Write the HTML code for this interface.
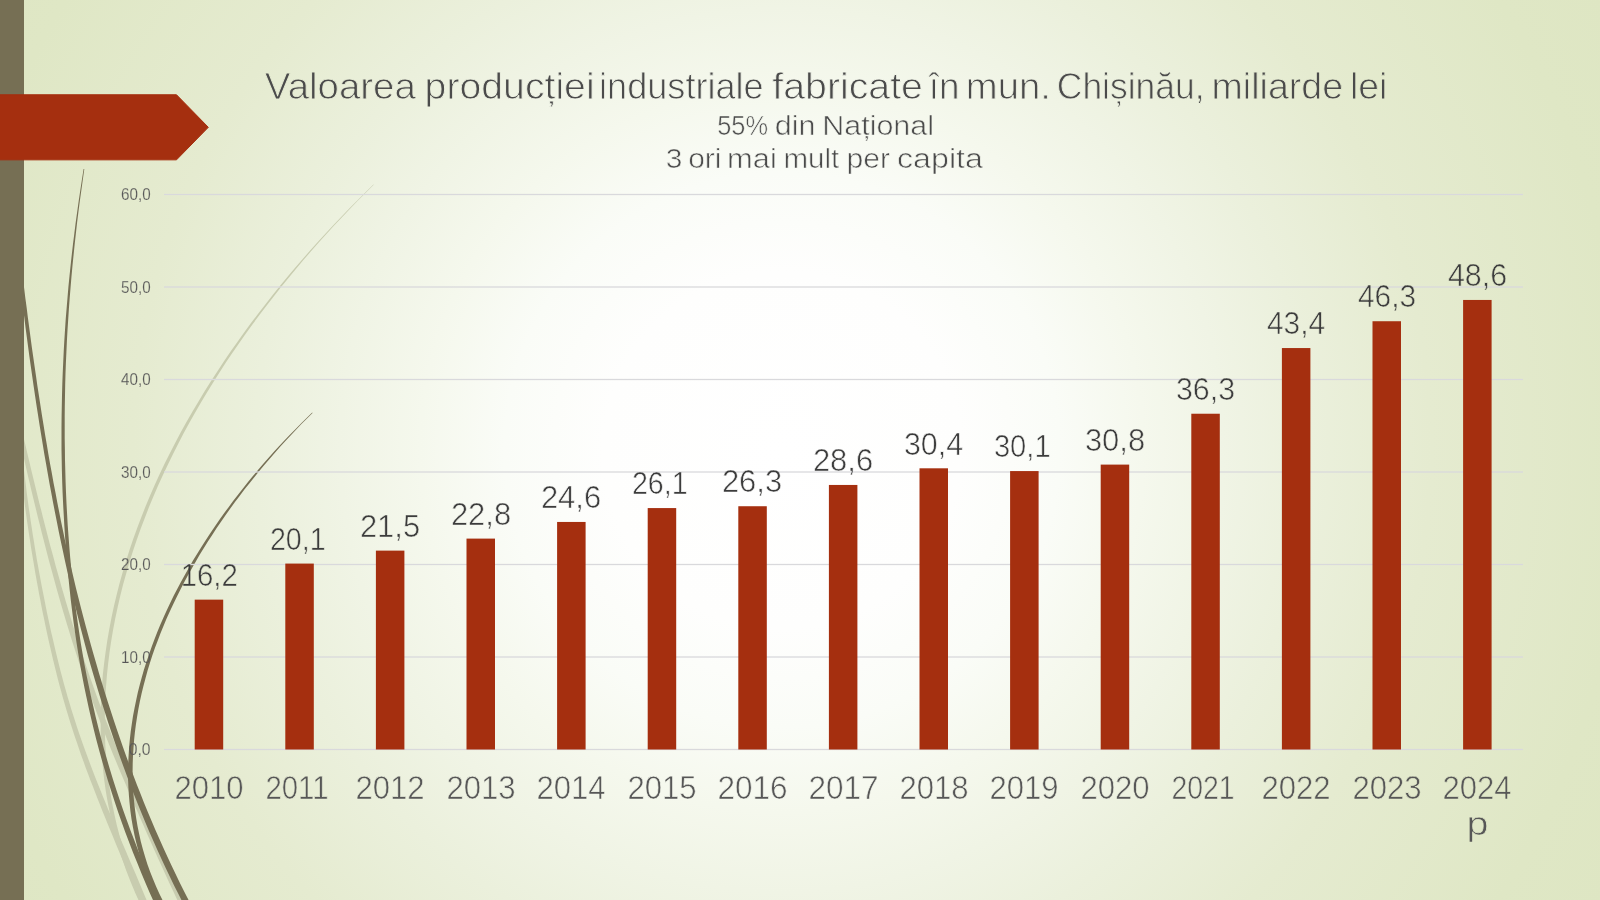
<!DOCTYPE html>
<html lang="ro"><head><meta charset="utf-8"><title>Valoarea producției industriale</title>
<style>
html,body{margin:0;padding:0;width:1600px;height:900px;overflow:hidden;background:#e1e9c9;}
svg{display:block;position:absolute;left:0;top:0}
text{font-family:"Liberation Sans",sans-serif;}
mask text{fill:#fff;stroke:#000;stroke-linejoin:round}
.ttl{font-size:36.5px;stroke-width:0.95px}
.sub{font-size:27px;stroke-width:0.7px}
.yl{font-size:16.3px;stroke-width:0.25px}
.xl{font-size:33.6px;stroke-width:0.75px}
.dl{font-size:31px;stroke-width:0.7px}
</style></head><body>
<svg width="1600" height="900" viewBox="0 0 1600 900">
<defs>
<radialGradient id="bg" gradientUnits="userSpaceOnUse" cx="782" cy="450" r="940">
<stop offset="0" stop-color="#ffffff"/>
<stop offset="0.19" stop-color="#fefefd"/>
<stop offset="0.295" stop-color="#fafcf7"/>
<stop offset="0.385" stop-color="#f5f8ed"/>
<stop offset="0.47" stop-color="#f0f4e5"/>
<stop offset="0.56" stop-color="#ebf0dc"/>
<stop offset="0.69" stop-color="#e5ebd0"/>
<stop offset="0.9" stop-color="#dfe7c5"/>
<stop offset="1" stop-color="#dee6c3"/>
</radialGradient>
</defs>
<rect width="1600" height="900" fill="url(#bg)"/>
<path d="M373.4 184.5 365.3 192.4 357.3 200.4 349.3 208.5 341.4 216.7 333.5 225.0 325.6 233.4 317.8 241.9 310.1 250.5 302.5 259.3 294.9 268.1 287.3 277.0 279.9 286.0 272.5 295.2 265.3 304.4 258.1 313.7 251.0 323.1 244.1 332.6 237.2 342.2 230.4 351.8 223.8 361.6 217.3 371.4 210.9 381.3 204.6 391.3 198.5 401.4 192.5 411.6 186.6 421.8 180.9 432.1 175.4 442.5 170.0 452.9 164.7 463.5 159.7 474.1 154.8 484.7 150.1 495.5 145.6 506.3 141.3 517.2 137.2 528.1 133.2 539.1 129.5 550.1 126.0 561.2 122.6 572.4 119.5 583.6 116.6 594.9 113.9 606.2 111.5 617.6 109.3 629.0 107.3 640.5 105.6 652.0 104.1 663.5 102.8 675.1 101.9 686.7 101.1 698.3 100.7 709.9 100.6 721.6 100.7 733.2 101.1 744.8 101.9 756.5 102.9 768.1 104.2 779.7 105.8 791.2 107.8 802.8 110.1 814.3 112.6 825.7 115.6 837.1 118.8 848.5 122.5 859.8 126.4 871.0 130.7 882.1 135.4 893.2 140.4 904.2 L144.2 902.4 139.2 891.5 134.6 880.5 130.4 869.5 126.4 858.4 122.9 847.3 119.6 836.0 116.7 824.7 114.2 813.4 111.9 802.0 110.0 790.6 108.4 779.1 107.1 767.7 106.1 756.2 105.3 744.6 104.9 733.1 104.8 721.6 104.9 710.0 105.3 698.5 106.0 687.0 106.9 675.5 108.1 664.0 109.5 652.5 111.2 641.1 113.1 629.7 115.3 618.3 117.7 607.0 120.3 595.8 123.1 584.6 126.2 573.4 129.4 562.3 132.9 551.3 136.6 540.3 140.5 529.3 144.6 518.4 148.8 507.6 153.3 496.8 157.9 486.1 162.7 475.5 167.7 464.9 172.8 454.4 178.1 443.9 183.5 433.5 189.1 423.2 194.9 412.9 200.8 402.8 206.8 392.7 213.0 382.7 219.3 372.7 225.7 362.8 232.3 353.1 238.9 343.4 245.7 333.8 252.6 324.2 259.6 314.8 266.7 305.5 273.9 296.2 281.1 287.0 288.5 278.0 295.9 269.0 303.4 260.1 311.0 251.3 318.7 242.6 326.4 234.1 334.1 225.6 342.0 217.2 349.8 209.0 357.7 200.8 365.7 192.8 373.7 184.8Z" fill="#c8ccaf"/>
<path d="M18.5 434.3 20.1 441.3 21.7 448.4 23.3 455.4 24.9 462.4 26.5 469.4 28.1 476.4 29.8 483.5 31.4 490.5 33.1 497.5 34.8 504.5 36.5 511.5 38.2 518.5 40.0 525.5 41.7 532.5 43.5 539.5 45.3 546.4 47.1 553.4 48.9 560.4 50.8 567.3 52.7 574.3 54.6 581.2 56.5 588.2 58.4 595.1 60.4 602.0 62.4 608.9 64.5 615.9 66.5 622.8 68.6 629.6 70.7 636.5 72.9 643.4 75.1 650.3 77.3 657.1 79.5 664.0 81.8 670.8 84.1 677.6 86.5 684.4 88.9 691.2 91.3 698.0 93.8 704.8 96.3 711.6 98.9 718.3 101.4 725.0 104.1 731.8 106.7 738.5 109.4 745.2 112.1 751.9 114.8 758.5 117.6 765.2 120.4 771.9 123.2 778.5 126.0 785.1 128.8 791.8 131.6 798.4 134.5 805.0 137.4 811.6 140.3 818.2 143.2 824.8 146.1 831.4 149.0 838.0 151.9 844.6 154.9 851.2 157.8 857.7 160.8 864.3 163.8 870.8 166.8 877.4 169.8 883.9 172.9 890.4 175.9 896.9 179.0 903.4 L184.2 900.9 181.2 894.4 178.1 887.9 175.1 881.4 172.1 874.9 169.1 868.4 166.1 861.9 163.1 855.3 160.2 848.8 157.2 842.2 154.3 835.7 151.4 829.1 148.5 822.5 145.6 815.9 142.7 809.3 139.8 802.7 137.0 796.1 134.1 789.5 131.3 782.9 128.5 776.3 125.7 769.6 122.9 763.0 120.2 756.3 117.5 749.7 114.8 743.0 112.1 736.3 109.5 729.6 106.9 722.9 104.3 716.2 101.7 709.5 99.2 702.8 96.7 696.1 94.3 689.3 91.9 682.5 89.5 675.8 87.2 669.0 84.9 662.2 82.6 655.4 80.4 648.6 78.1 641.7 76.0 634.9 73.8 628.0 71.7 621.2 69.6 614.3 67.6 607.4 65.5 600.5 63.5 593.6 61.5 586.7 59.6 579.8 57.7 572.9 55.7 566.0 53.9 559.0 52.0 552.1 50.1 545.2 48.3 538.2 46.5 531.2 44.7 524.3 42.9 517.3 41.2 510.3 39.4 503.4 37.7 496.4 36.0 489.4 34.3 482.4 32.6 475.4 30.9 468.4 29.3 461.4 27.6 454.4 26.0 447.4 24.3 440.4 22.7 433.4Z" fill="#c8ccaf"/>
<path d="M19.8 462.1 20.5 468.7 21.2 475.3 22.0 481.9 22.8 488.6 23.6 495.2 24.4 501.8 25.3 508.4 26.2 514.9 27.1 521.5 28.1 528.1 29.1 534.7 30.1 541.3 31.1 547.9 32.2 554.5 33.3 561.0 34.4 567.6 35.5 574.2 36.7 580.7 37.9 587.3 39.1 593.9 40.4 600.4 41.6 607.0 42.9 613.5 44.3 620.0 45.6 626.6 47.0 633.1 48.4 639.6 49.9 646.1 51.4 652.6 52.9 659.1 54.5 665.6 56.1 672.0 57.7 678.5 59.4 684.9 61.2 691.4 62.9 697.8 64.8 704.2 66.6 710.6 68.6 717.0 70.5 723.3 72.6 729.7 74.6 736.0 76.8 742.3 78.9 748.6 81.1 754.9 83.4 761.2 85.6 767.4 88.0 773.7 90.3 779.9 92.7 786.1 95.1 792.3 97.5 798.6 100.0 804.7 102.4 810.9 104.9 817.1 107.4 823.3 110.0 829.5 112.5 835.6 115.0 841.8 117.6 847.9 120.1 854.1 122.7 860.2 125.2 866.4 127.8 872.5 130.3 878.7 132.8 884.8 135.3 891.0 137.9 897.1 140.4 903.3 L146.8 900.6 144.2 894.5 141.7 888.4 139.1 882.2 136.5 876.1 133.9 870.0 131.3 863.9 128.6 857.7 126.0 851.6 123.4 845.5 120.8 839.4 118.2 833.2 115.6 827.1 113.0 821.0 110.5 814.8 107.9 808.7 105.4 802.6 102.9 796.4 100.4 790.2 97.9 784.1 95.5 777.9 93.1 771.7 90.7 765.5 88.4 759.3 86.1 753.1 83.9 746.9 81.6 740.6 79.5 734.4 77.3 728.1 75.3 721.8 73.3 715.5 71.3 709.2 69.4 702.8 67.5 696.5 65.7 690.1 63.9 683.7 62.2 677.3 60.5 670.9 58.9 664.5 57.3 658.0 55.7 651.6 54.2 645.1 52.7 638.6 51.2 632.2 49.8 625.7 48.4 619.2 47.0 612.7 45.7 606.2 44.4 599.6 43.1 593.1 41.8 586.6 40.6 580.0 39.4 573.5 38.2 567.0 37.0 560.4 35.9 553.8 34.8 547.3 33.8 540.7 32.7 534.2 31.7 527.6 30.7 521.0 29.8 514.4 28.8 507.9 27.9 501.3 27.0 494.7 26.2 488.1 25.4 481.5 24.6 475.0 23.8 468.4 23.1 461.8Z" fill="#c8ccaf"/>
<path d="M83.6 169.0 81.9 179.7 80.3 190.3 78.7 201.0 77.2 211.7 75.7 222.4 74.4 233.1 73.0 243.9 71.8 254.6 70.6 265.4 69.5 276.1 68.4 286.9 67.5 297.7 66.6 308.5 65.7 319.3 65.0 330.1 64.3 341.0 63.7 351.8 63.2 362.6 62.7 373.5 62.3 384.3 62.0 395.2 61.8 406.0 61.6 416.8 61.5 427.7 61.5 438.5 61.5 449.4 61.7 460.2 61.9 471.1 62.2 481.9 62.6 492.8 63.1 503.6 63.7 514.5 64.3 525.3 65.0 536.1 65.8 546.9 66.7 557.7 67.6 568.5 68.6 579.3 69.7 590.1 70.9 600.9 72.2 611.6 73.6 622.4 75.1 633.1 76.7 643.8 78.4 654.5 80.2 665.2 82.2 675.9 84.2 686.5 86.4 697.1 88.7 707.7 91.1 718.2 93.6 728.8 96.2 739.3 99.0 749.7 101.9 760.2 104.9 770.6 108.0 781.0 111.3 791.3 114.6 801.6 118.1 811.9 121.7 822.2 125.4 832.4 129.2 842.6 133.1 852.7 137.2 862.8 141.3 872.9 145.5 883.0 149.8 893.0 154.3 902.9 L159.5 900.6 155.1 890.7 150.8 880.7 146.5 870.7 142.4 860.7 138.3 850.7 134.4 840.6 130.5 830.5 126.8 820.3 123.2 810.2 119.7 800.0 116.3 789.7 113.0 779.4 109.8 769.1 106.8 758.8 103.8 748.4 101.0 738.0 98.3 727.6 95.7 717.1 93.3 706.6 90.9 696.1 88.7 685.6 86.5 675.0 84.5 664.4 82.6 653.8 80.8 643.2 79.2 632.5 77.6 621.8 76.1 611.1 74.7 600.4 73.5 589.7 72.3 579.0 71.2 568.2 70.2 557.4 69.3 546.6 68.5 535.9 67.7 525.1 67.1 514.3 66.5 503.5 66.0 492.6 65.6 481.8 65.3 471.0 65.0 460.2 64.9 449.4 64.7 438.5 64.7 427.7 64.7 416.9 64.8 406.0 65.0 395.2 65.2 384.4 65.5 373.6 65.9 362.7 66.4 351.9 66.9 341.1 67.5 330.3 68.2 319.5 68.9 308.7 69.7 297.9 70.6 287.1 71.5 276.3 72.5 265.6 73.6 254.8 74.7 244.1 75.9 233.3 77.1 222.6 78.4 211.9 79.8 201.2 81.3 190.5 82.8 179.8 84.3 169.1Z" fill="#766f54"/>
<path d="M16.1 250.2 17.2 260.0 18.4 269.7 19.6 279.4 20.7 289.1 21.9 298.8 23.1 308.6 24.4 318.3 25.6 328.0 26.9 337.8 28.2 347.5 29.5 357.2 30.9 367.0 32.3 376.7 33.7 386.4 35.1 396.1 36.6 405.9 38.1 415.6 39.6 425.3 41.2 435.0 42.8 444.7 44.4 454.4 46.1 464.1 47.8 473.8 49.5 483.4 51.3 493.1 53.1 502.8 55.0 512.4 56.9 522.1 58.8 531.7 60.8 541.3 62.9 550.9 64.9 560.5 67.0 570.1 69.1 579.7 71.3 589.3 73.5 598.9 75.8 608.4 78.2 617.9 80.5 627.5 83.0 637.0 85.5 646.5 88.0 655.9 90.7 665.4 93.4 674.8 96.2 684.2 99.0 693.6 101.9 703.0 104.9 712.3 107.9 721.7 111.0 731.0 114.1 740.3 117.3 749.6 120.6 758.8 124.0 768.0 127.4 777.3 130.9 786.4 134.4 795.6 138.1 804.7 141.8 813.8 145.6 822.9 149.4 832.0 153.4 841.0 157.4 850.0 161.5 859.0 165.7 867.9 169.9 876.8 174.2 885.7 178.7 894.6 183.2 903.4 L188.8 900.5 184.3 891.7 179.9 882.9 175.6 874.1 171.4 865.2 167.2 856.3 163.2 847.4 159.2 838.4 155.2 829.5 151.4 820.5 147.6 811.4 143.9 802.4 140.3 793.3 136.7 784.2 133.2 775.1 129.8 765.9 126.4 756.7 123.1 747.5 119.9 738.3 116.7 729.1 113.6 719.8 110.6 710.5 107.6 701.2 104.7 691.9 101.8 682.5 99.0 673.2 96.3 663.8 93.6 654.4 90.9 645.0 88.3 635.5 85.7 626.1 83.2 616.6 80.8 607.2 78.4 597.7 76.0 588.2 73.7 578.6 71.5 569.1 69.3 559.6 67.1 550.0 65.0 540.4 63.0 530.8 61.0 521.2 59.1 511.6 57.2 502.0 55.4 492.3 53.5 482.7 51.8 473.0 50.0 463.4 48.3 453.7 46.7 444.0 45.0 434.3 43.5 424.7 41.9 415.0 40.4 405.3 38.9 395.6 37.4 385.9 36.0 376.1 34.6 366.4 33.2 356.7 31.8 347.0 30.5 337.3 29.2 327.6 27.9 317.8 26.7 308.1 25.4 298.4 24.2 288.7 23.0 279.0 21.8 269.3 20.7 259.5 19.6 249.8Z" fill="#766f54"/>
<path d="M312.2 412.6 306.6 418.1 301.0 423.6 295.4 429.2 289.9 434.8 284.4 440.6 279.0 446.3 273.7 452.1 268.4 458.0 263.1 464.0 258.0 470.0 252.9 476.1 247.8 482.2 242.9 488.4 238.0 494.7 233.1 501.0 228.4 507.4 223.7 513.8 219.1 520.3 214.5 526.9 210.1 533.5 205.7 540.2 201.4 546.9 197.2 553.7 193.0 560.5 189.0 567.4 185.1 574.4 181.2 581.4 177.5 588.5 173.8 595.6 170.3 602.8 166.9 610.0 163.6 617.3 160.4 624.6 157.3 632.0 154.4 639.4 151.6 646.9 149.0 654.4 146.4 662.0 144.0 669.6 141.8 677.2 139.7 684.9 137.8 692.6 136.1 700.4 134.5 708.2 133.0 716.0 131.8 723.9 130.7 731.8 129.8 739.7 129.1 747.6 128.6 755.5 128.2 763.5 128.1 771.4 128.1 779.4 128.4 787.3 128.9 795.3 129.6 803.2 130.4 811.1 131.5 819.0 132.9 826.9 134.4 834.7 136.2 842.5 138.2 850.3 140.4 858.0 142.8 865.7 145.5 873.4 148.5 881.0 151.7 888.5 155.1 896.0 158.8 903.4 L163.1 901.2 159.5 893.9 156.1 886.5 153.0 879.1 150.1 871.7 147.4 864.2 145.0 856.6 142.8 849.0 140.8 841.4 139.1 833.7 137.5 826.0 136.2 818.3 135.1 810.5 134.2 802.7 133.5 794.9 133.1 787.1 132.8 779.3 132.6 771.4 132.7 763.6 133.0 755.8 133.5 747.9 134.1 740.1 134.9 732.3 135.9 724.5 137.1 716.7 138.4 708.9 139.9 701.2 141.6 693.5 143.5 685.8 145.5 678.2 147.6 670.6 149.9 663.1 152.3 655.6 154.9 648.1 157.7 640.7 160.5 633.3 163.5 625.9 166.6 618.6 169.8 611.4 173.2 604.2 176.7 597.0 180.2 589.9 183.9 582.8 187.7 575.8 191.5 568.9 195.5 562.0 199.5 555.1 203.7 548.3 207.9 541.6 212.2 534.9 216.5 528.3 221.0 521.7 225.5 515.2 230.1 508.7 234.8 502.3 239.6 495.9 244.4 489.6 249.3 483.4 254.3 477.2 259.3 471.1 264.3 465.0 269.5 459.0 274.7 453.0 279.9 447.1 285.2 441.3 290.6 435.5 296.0 429.8 301.4 424.1 307.0 418.5 312.5 413.0Z" fill="#766f54"/>
<rect x="0" y="0" width="24" height="900" fill="#766f54"/>
<path d="M-2 94.75H176.5L208.3 127.3L176.5 159.85H-2Z" fill="#a52f0f" stroke="#a52f0f" stroke-width="1" stroke-linejoin="round"/>

<rect x="164.0" y="748.85" width="1359.0" height="1.3" fill="#d9d9dc"/>
<rect x="164.0" y="656.35" width="1359.0" height="1.3" fill="#d9d9dc"/>
<rect x="164.0" y="563.85" width="1359.0" height="1.3" fill="#d9d9dc"/>
<rect x="164.0" y="471.35" width="1359.0" height="1.3" fill="#d9d9dc"/>
<rect x="164.0" y="378.85" width="1359.0" height="1.3" fill="#d9d9dc"/>
<rect x="164.0" y="286.35" width="1359.0" height="1.3" fill="#d9d9dc"/>
<rect x="164.0" y="193.85" width="1359.0" height="1.3" fill="#d9d9dc"/>
<rect x="194.70" y="599.65" width="28.5" height="149.85" fill="#a52f0f"/>
<rect x="285.30" y="563.58" width="28.5" height="185.92" fill="#a52f0f"/>
<rect x="375.90" y="550.62" width="28.5" height="198.88" fill="#a52f0f"/>
<rect x="466.50" y="538.60" width="28.5" height="210.90" fill="#a52f0f"/>
<rect x="557.10" y="521.95" width="28.5" height="227.55" fill="#a52f0f"/>
<rect x="647.70" y="508.07" width="28.5" height="241.43" fill="#a52f0f"/>
<rect x="738.30" y="506.23" width="28.5" height="243.27" fill="#a52f0f"/>
<rect x="828.90" y="484.95" width="28.5" height="264.55" fill="#a52f0f"/>
<rect x="919.50" y="468.30" width="28.5" height="281.20" fill="#a52f0f"/>
<rect x="1010.10" y="471.07" width="28.5" height="278.43" fill="#a52f0f"/>
<rect x="1100.70" y="464.60" width="28.5" height="284.90" fill="#a52f0f"/>
<rect x="1191.30" y="413.73" width="28.5" height="335.77" fill="#a52f0f"/>
<rect x="1281.90" y="348.05" width="28.5" height="401.45" fill="#a52f0f"/>
<rect x="1372.50" y="321.23" width="28.5" height="428.27" fill="#a52f0f"/>
<rect x="1463.10" y="299.95" width="28.5" height="449.55" fill="#a52f0f"/>
<mask id="mA" maskUnits="userSpaceOnUse" x="0" y="0" width="1600" height="900"><text class="ttl" x="264.85" y="99.1" textLength="151.05" lengthAdjust="spacingAndGlyphs">Valoarea</text>
<text class="ttl" x="424.60" y="99.1" textLength="170.05" lengthAdjust="spacingAndGlyphs">producției</text>
<text class="ttl" x="599.10" y="99.1" textLength="164.55" lengthAdjust="spacingAndGlyphs">industriale</text>
<text class="ttl" x="772.35" y="99.1" textLength="150.55" lengthAdjust="spacingAndGlyphs">fabricate</text>
<text class="ttl" x="928.85" y="99.1" textLength="30.80" lengthAdjust="spacingAndGlyphs">în</text>
<text class="ttl" x="965.80" y="99.1" textLength="85.10" lengthAdjust="spacingAndGlyphs">mun.</text>
<text class="ttl" x="1056.80" y="99.1" textLength="147.80" lengthAdjust="spacingAndGlyphs">Chișinău,</text>
<text class="ttl" x="1211.50" y="99.1" textLength="131.70" lengthAdjust="spacingAndGlyphs">miliarde</text>
<text class="ttl" x="1350.00" y="99.1" textLength="37.40" lengthAdjust="spacingAndGlyphs">lei</text>
<text class="sub" x="717.20" y="134.6" textLength="50.85" lengthAdjust="spacingAndGlyphs">55%</text>
<text class="sub" x="774.70" y="134.6" textLength="40.85" lengthAdjust="spacingAndGlyphs">din</text>
<text class="sub" x="822.20" y="134.6" textLength="111.85" lengthAdjust="spacingAndGlyphs">Național</text>
<text class="sub" x="665.70" y="167.9" textLength="16.60" lengthAdjust="spacingAndGlyphs">3</text>
<text class="sub" x="688.20" y="167.9" textLength="33.35" lengthAdjust="spacingAndGlyphs">ori</text>
<text class="sub" x="726.95" y="167.9" textLength="49.85" lengthAdjust="spacingAndGlyphs">mai</text>
<text class="sub" x="783.45" y="167.9" textLength="55.85" lengthAdjust="spacingAndGlyphs">mult</text>
<text class="sub" x="846.45" y="167.9" textLength="43.60" lengthAdjust="spacingAndGlyphs">per</text>
<text class="sub" x="896.95" y="167.9" textLength="86.10" lengthAdjust="spacingAndGlyphs">capita</text></mask>
<mask id="mB" maskUnits="userSpaceOnUse" x="0" y="0" width="1600" height="900"><text class="yl" x="128.8" y="755.1" textLength="21.8" lengthAdjust="spacingAndGlyphs">0,0</text>
<text class="yl" x="121.0" y="662.6" textLength="29.6" lengthAdjust="spacingAndGlyphs">10,0</text>
<text class="yl" x="121.0" y="570.1" textLength="29.6" lengthAdjust="spacingAndGlyphs">20,0</text>
<text class="yl" x="121.0" y="477.6" textLength="29.6" lengthAdjust="spacingAndGlyphs">30,0</text>
<text class="yl" x="121.0" y="385.1" textLength="29.6" lengthAdjust="spacingAndGlyphs">40,0</text>
<text class="yl" x="121.0" y="292.6" textLength="29.6" lengthAdjust="spacingAndGlyphs">50,0</text>
<text class="yl" x="121.0" y="200.1" textLength="29.6" lengthAdjust="spacingAndGlyphs">60,0</text>
<text class="xl" x="174.40" y="799.3" textLength="69.20" lengthAdjust="spacingAndGlyphs">2010</text>
<text class="xl" x="265.40" y="799.3" textLength="63.20" lengthAdjust="spacingAndGlyphs">2011</text>
<text class="xl" x="355.40" y="799.3" textLength="69.20" lengthAdjust="spacingAndGlyphs">2012</text>
<text class="xl" x="446.40" y="799.3" textLength="69.20" lengthAdjust="spacingAndGlyphs">2013</text>
<text class="xl" x="536.40" y="799.3" textLength="69.20" lengthAdjust="spacingAndGlyphs">2014</text>
<text class="xl" x="627.40" y="799.3" textLength="69.20" lengthAdjust="spacingAndGlyphs">2015</text>
<text class="xl" x="717.40" y="799.3" textLength="70.20" lengthAdjust="spacingAndGlyphs">2016</text>
<text class="xl" x="808.40" y="799.3" textLength="70.20" lengthAdjust="spacingAndGlyphs">2017</text>
<text class="xl" x="899.40" y="799.3" textLength="69.20" lengthAdjust="spacingAndGlyphs">2018</text>
<text class="xl" x="989.40" y="799.3" textLength="69.20" lengthAdjust="spacingAndGlyphs">2019</text>
<text class="xl" x="1080.40" y="799.3" textLength="69.20" lengthAdjust="spacingAndGlyphs">2020</text>
<text class="xl" x="1171.40" y="799.3" textLength="63.20" lengthAdjust="spacingAndGlyphs">2021</text>
<text class="xl" x="1261.40" y="799.3" textLength="69.20" lengthAdjust="spacingAndGlyphs">2022</text>
<text class="xl" x="1352.40" y="799.3" textLength="69.20" lengthAdjust="spacingAndGlyphs">2023</text>
<text class="xl" x="1442.40" y="799.3" textLength="69.20" lengthAdjust="spacingAndGlyphs">2024</text>
<text class="xl" x="1466.4" y="834.9" textLength="22" lengthAdjust="spacingAndGlyphs">p</text></mask>
<mask id="mC" maskUnits="userSpaceOnUse" x="0" y="0" width="1600" height="900"><text class="dl" x="180.70" y="585.9" textLength="57.20" lengthAdjust="spacingAndGlyphs">16,2</text>
<text class="dl" x="269.90" y="549.8" textLength="55.70" lengthAdjust="spacingAndGlyphs">20,1</text>
<text class="dl" x="359.90" y="536.8" textLength="60.20" lengthAdjust="spacingAndGlyphs">21,5</text>
<text class="dl" x="450.90" y="524.8" textLength="60.20" lengthAdjust="spacingAndGlyphs">22,8</text>
<text class="dl" x="540.90" y="508.2" textLength="60.20" lengthAdjust="spacingAndGlyphs">24,6</text>
<text class="dl" x="631.90" y="494.3" textLength="55.70" lengthAdjust="spacingAndGlyphs">26,1</text>
<text class="dl" x="721.90" y="492.4" textLength="60.20" lengthAdjust="spacingAndGlyphs">26,3</text>
<text class="dl" x="812.90" y="471.1" textLength="60.20" lengthAdjust="spacingAndGlyphs">28,6</text>
<text class="dl" x="903.90" y="454.5" textLength="59.20" lengthAdjust="spacingAndGlyphs">30,4</text>
<text class="dl" x="993.90" y="457.3" textLength="56.70" lengthAdjust="spacingAndGlyphs">30,1</text>
<text class="dl" x="1084.90" y="450.8" textLength="60.20" lengthAdjust="spacingAndGlyphs">30,8</text>
<text class="dl" x="1175.90" y="399.9" textLength="59.20" lengthAdjust="spacingAndGlyphs">36,3</text>
<text class="dl" x="1266.90" y="334.2" textLength="58.20" lengthAdjust="spacingAndGlyphs">43,4</text>
<text class="dl" x="1357.90" y="307.4" textLength="58.20" lengthAdjust="spacingAndGlyphs">46,3</text>
<text class="dl" x="1447.90" y="286.1" textLength="59.20" lengthAdjust="spacingAndGlyphs">48,6</text></mask>
<rect width="1600" height="200" fill="#4b4b4b" mask="url(#mA)"/>
<rect width="1600" height="900" fill="#3c3c3c" mask="url(#mC)"/>
<rect width="1600" height="900" fill="#575757" mask="url(#mB)"/>
</svg></body></html>
